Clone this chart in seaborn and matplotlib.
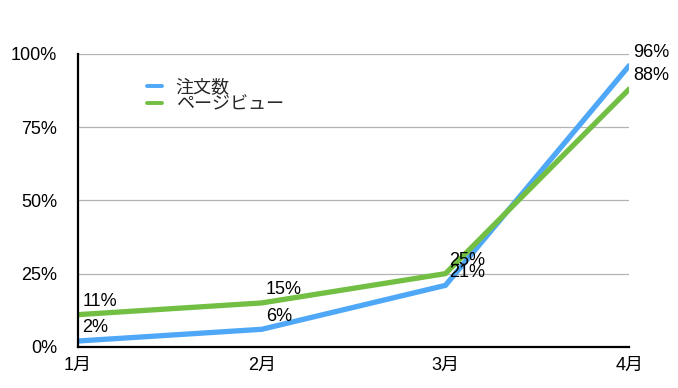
import matplotlib
matplotlib.use("Agg")
import matplotlib.pyplot as plt
import seaborn as sns
import pandas as pd

months = ["1月", "2月", "3月", "4月"]
orders = [2, 6, 21, 96]        # 注文数
pageviews = [11, 15, 25, 88]   # ページビュー
series_names = ["注文数", "ページビュー"]
y_ticks = [0, 25, 50, 75, 100]

df = pd.DataFrame({
    "month": months * 2,
    "value": orders + pageviews,
    "series": [series_names[0]] * 4 + [series_names[1]] * 4,
})

sns.set_theme(style="white")
plt.rcParams["font.family"] = ["Liberation Sans", "Noto Sans CJK JP", "DejaVu Sans"]

fig = plt.figure(figsize=(6.78, 3.88), dpi=100)
ax = fig.add_axes([0.115, 0.106, 0.813, 0.755])

palette = {series_names[0]: "#4fa8f7", series_names[1]: "#72bf44"}
sns.lineplot(data=df, x="month", y="value", hue="series", palette=palette,
             linewidth=3.8, ax=ax, sort=False)

# value labels sit just above and right of each point (25%/21% overlap as in the original)
for i, (o, p) in enumerate(zip(orders, pageviews)):
    for v in (o, p):
        ax.annotate(f"{v}%", (i, v), xytext=(3, 9.5), textcoords="offset points",
                    ha="left", va="center", fontsize=13, color="black")

ax.set_xlim(0, 3)
ax.set_ylim(0, 100)
ax.set_yticks(y_ticks)
ax.set_yticklabels([f"{t}%" for t in y_ticks])
ax.set_xlabel("")
ax.set_ylabel("")
ax.yaxis.grid(True, color="#b3b3b3", linewidth=0.9)
ax.xaxis.grid(False)
ax.set_axisbelow(True)
ax.tick_params(axis="y", length=0, pad=15, labelsize=13, colors="black")
ax.tick_params(axis="x", length=0, pad=7, labelsize=13, colors="black")
for side in ["top", "right"]:
    ax.spines[side].set_visible(False)
for side in ["left", "bottom"]:
    ax.spines[side].set_color("black")
    ax.spines[side].set_linewidth(1.6)
    ax.spines[side].set_zorder(5)

leg = ax.legend(loc="upper left", bbox_to_anchor=(0.125, 0.912), frameon=False,
                fontsize=13, handlelength=0.85, handletextpad=0.75,
                labelspacing=0.0, borderaxespad=0, borderpad=0)
for line in leg.get_lines():
    line.set_linewidth(2.8)

fig.savefig("out.png", dpi=100)
